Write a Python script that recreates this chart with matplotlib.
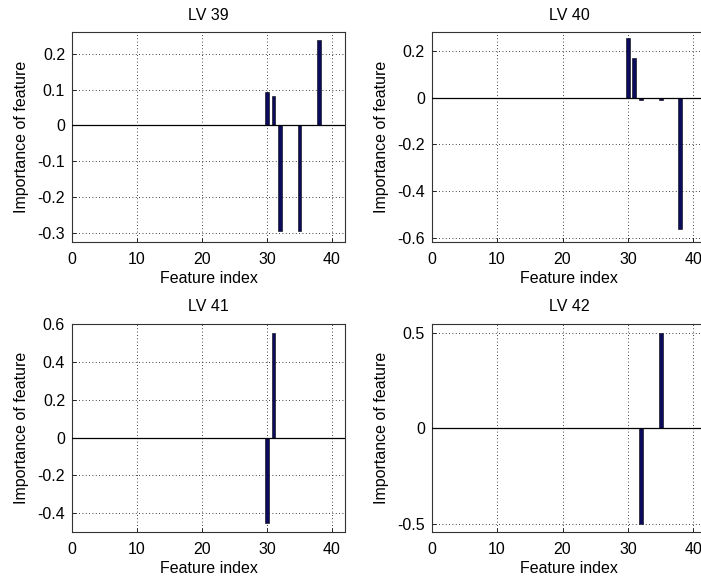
import matplotlib
matplotlib.use("Agg")
import matplotlib.pyplot as plt
import numpy as np

plt.rcParams['font.family'] = ['Liberation Sans', 'DejaVu Sans']
plt.rcParams['font.size'] = 11.5

titles = ["LV 39", "LV 40", "LV 41", "LV 42"]
n_features = 42

idx_39 = [30, 31, 32, 35, 38]
val_39 = [0.093, 0.083, -0.293, -0.293, 0.237]
idx_40 = [30, 31, 32, 35, 38]
val_40 = [0.255, 0.170, -0.01, -0.01, -0.564]
idx_41 = [30, 31]
val_41 = [-0.451, 0.550]
idx_42 = [32, 35]
val_42 = [-0.50, 0.50]

ylims = [(-0.324, 0.26), (-0.62, 0.28), (-0.5, 0.6), (-0.545, 0.547)]
yticks = [[-0.3, -0.2, -0.1, 0, 0.1, 0.2],
          [-0.6, -0.4, -0.2, 0, 0.2],
          [-0.4, -0.2, 0, 0.2, 0.4, 0.6],
          [-0.5, 0, 0.5]]
xticks = [0, 10, 20, 30, 40]

panels = [(idx_39, val_39), (idx_40, val_40), (idx_41, val_41), (idx_42, val_42)]

W, H = 701, 586
fig = plt.figure(figsize=(W / 100, H / 100), dpi=100)
positions = [
    (72 / W, 1 - 242 / H, 273 / W, 210 / H),
    (431.7 / W, 1 - 242.3 / H, 274.7 / W, 210 / H),
    (72 / W, 1 - 532.3 / H, 273 / W, 208.3 / H),
    (431.7 / W, 1 - 532.3 / H, 274.7 / W, 208.3 / H),
]

bar_color = '#0b0b5c'

for k, ((idx, val), pos) in enumerate(zip(panels, positions)):
    ax = fig.add_axes(pos)
    x = np.arange(1, n_features + 1)
    y = np.zeros(n_features)
    for i, v in zip(idx, val):
        y[i - 1] = v
    ax.bar(x, y, width=0.6, color=bar_color, edgecolor='black', linewidth=0.4, zorder=3)
    ax.axhline(0, color='black', lw=0.9, zorder=4)
    ax.set_xlim(0, 42)
    ax.set_ylim(*ylims[k])
    ax.set_xticks(xticks)
    ax.set_yticks(yticks[k])
    ax.set_yticklabels([('%g' % t) for t in yticks[k]])
    ax.grid(True, color='black', linestyle=(0, (1, 3)), linewidth=0.6, zorder=0)
    ax.tick_params(direction='in', length=3, width=0.6, labelsize=11.5)
    ax.tick_params(axis='x', pad=7)
    ax.tick_params(axis='y', pad=5)
    for s in ax.spines.values():
        s.set_linewidth(0.8)
        s.set_color('#333333')
    ax.set_title(titles[k], fontsize=11.5, pad=9)
    ax.set_xlabel('Feature index', fontsize=11.5, labelpad=3)
    ax.set_ylabel('Importance of feature', fontsize=11.5, labelpad=6)

fig.savefig('out.png', dpi=100)
